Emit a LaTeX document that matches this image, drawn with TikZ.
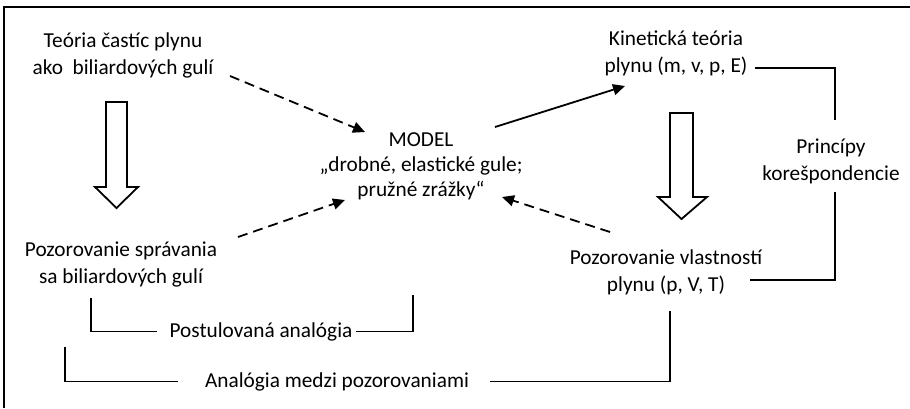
\documentclass[tikz,border=0pt]{standalone}
\usepackage{fontspec}
\setmainfont{Carlito}
\usetikzlibrary{arrows.meta}
\begin{document}
\begin{tikzpicture}[x=1pt,y=-1pt,
  txt/.style={inner sep=0pt,align=center,text=black,font=\fontsize{21.3}{27}\selectfont},
  ln/.style={line width=1.8pt,black},
  dasharrow/.style={ln,dash pattern=on 10pt off 6pt,-{Triangle[length=12pt,width=11pt]}},
  solidarrow/.style={ln,-{Triangle[length=12pt,width=11pt]}},
  hollow/.style={line width=1.8pt,black,fill=white,line join=miter}]
\useasboundingbox (0,0) rectangle (910,408);
% frame (top and left only)
\draw[line width=2pt] (4,408) -- (4,7) -- (910,7);
% nodes
\node[txt] (teo) at (123,55.5) {Teória častíc plynu\\ako\ \ biliardových gulí};
\node[txt,font=\fontsize{21.3}{25}\selectfont] (model) at (421,166) {MODEL\\„drobné, elastické gule;\\pružné zrážky“};
\node[txt] (kin) at (676,53.5) {Kinetická teória\\plynu (m, v, p, E)};
\node[txt] (pozs) at (121,264) {Pozorovanie správania\\sa biliardových gulí};
\node[txt] (pozv) at (666,272) {Pozorovanie vlastností\\plynu (p, V, T)};
\node[txt] (prin) at (831,161) {Princípy\\korešpondencie};
\node[txt,anchor=base] (post) at (261,337) {Postulovaná analógia};
\node[txt,anchor=base] (anal) at (337,387) {Analógia medzi pozorovaniami};
% hollow arrows
\draw[hollow] (106,102) -- (127,102) -- (127,187) -- (138,187) -- (116.5,208) -- (95,187) -- (106,187) -- cycle;
\draw[hollow] (670,113) -- (693,113) -- (693,197) -- (707,197) -- (681.5,219) -- (658,197) -- (670,197) -- cycle;
% arrow coordinates
\coordinate (d1s) at (230,76);  \coordinate (d1e) at (365,132);
\coordinate (d2s) at (238,237); \coordinate (d2e) at (345,200);
\coordinate (d3s) at (610,232); \coordinate (d3e) at (502,197);
\coordinate (s1s) at (495,127); \coordinate (s1e) at (625,86);
\draw[dasharrow] (d1s) -- (d1e);
\draw[dasharrow] (d2s) -- (d2e);
\draw[dasharrow] (d3s) -- (d3e);
\draw[solidarrow] (s1s) -- (s1e);
% brackets
\coordinate (b1) at (91,298);
\coordinate (b2) at (413,295);
\draw[ln] (b1) |- ([xshift=-12pt]post.west);
\draw[ln] ([xshift=3pt]post.east) -| (b2);
\coordinate (c1) at (65,347);
\coordinate (c2) at (670,311);
\draw[ln] (c1) |- ([xshift=-27pt]anal.west);
\draw[ln] ([xshift=21pt]anal.east) -| (c2);
\coordinate (k1) at (755,68);
\coordinate (k2) at (835,120);
\coordinate (k3) at (835,192);
\coordinate (k4) at (750,280);
\draw[ln] (k1) -| (k2);
\draw[ln] (k3) |- (k4);
\end{tikzpicture}
\end{document}
